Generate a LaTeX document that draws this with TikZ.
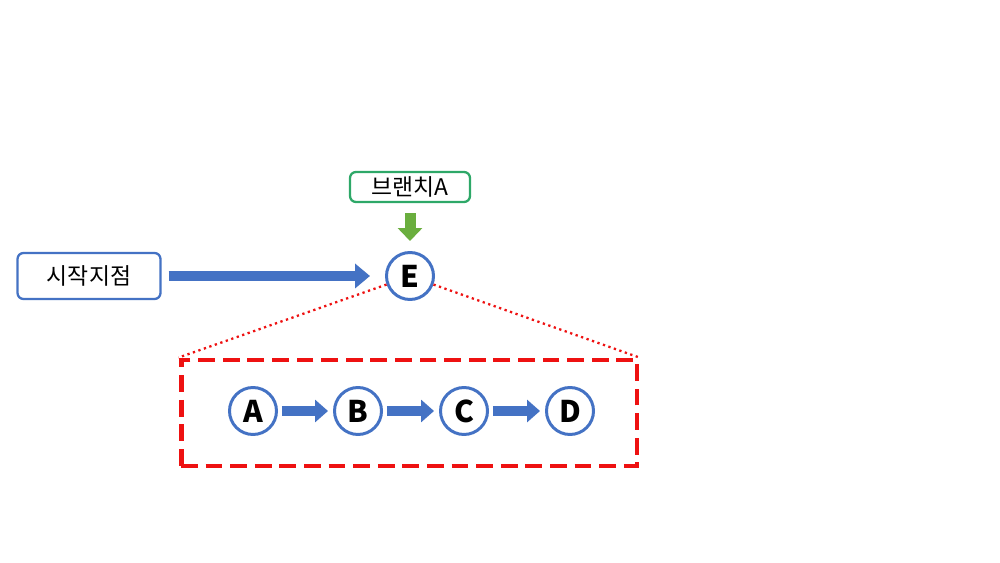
\documentclass[tikz,border=0pt]{standalone}
\usepackage{tikz}
\usepackage{xcolor}
\usepackage{fontspec}
\setmainfont{Noto Sans CJK KR}
\definecolor{vizBlue}{HTML}{4472C4}
\definecolor{vizGreen}{HTML}{6AAE3E}
\definecolor{vizBranch}{HTML}{2EA868}
\definecolor{vizRed}{HTML}{EE1111}
\usetikzlibrary{arrows.meta}

\begin{document}
\begin{tikzpicture}[x=0.02cm, y=-0.02cm,
  commit/.style={circle, draw=vizBlue, line width=1.7pt, fill=white, minimum size=0.94cm, inner sep=0pt, font=\fontsize{17}{17}\selectfont\bfseries},
  labelbox/.style={rectangle, rounded corners=0.12cm, line width=1.3pt, fill=white, inner sep=0pt, font=\fontsize{13}{13}\selectfont},
  bigarrow/.style={draw=vizBlue, line width=0.2cm, -{Triangle[width=0.48cm, length=0.3cm]}},
  smallarrow/.style={draw=vizBlue, line width=0.2cm, -{Triangle[width=0.44cm, length=0.26cm]}},
  greenarrow/.style={draw=vizGreen, line width=0.22cm, -{Triangle[width=0.48cm, length=0.26cm]}}]
  \useasboundingbox (0,0) rectangle (1000,563);
  \filldraw[fill=white, draw=none] (0,0) rectangle (1000,563);
  \node[labelbox, draw=vizBlue, minimum width=2.86cm, minimum height=0.92cm] (start) at (89,276) {시작지점};
  \node[labelbox, draw=vizBranch, minimum width=2.4cm, minimum height=0.6cm] (branch) at (410,187) {브랜치A};
  \node[commit] (E) at (410,276) {E};
  \node[rectangle, draw=vizRed, line width=2.8pt, dash pattern=on 9.5pt off 4.5pt, minimum width=9.12cm, minimum height=2.12cm] (frame) at (409,413) {};
  \node[commit] (A) at (253,411) {A};
  \node[commit] (B) at (358,411) {B};
  \node[commit] (C) at (464,411) {C};
  \node[commit] (D) at (570,411) {D};
  \draw[bigarrow, shorten <=0.14cm, shorten >=0.3cm] (start) -- (E);
  \draw[greenarrow, shorten <=0.2cm, shorten >=0.2cm] (branch) -- (E);
  \draw[smallarrow, shorten <=0.08cm, shorten >=0.1cm] (A) -- (B);
  \draw[smallarrow, shorten <=0.08cm, shorten >=0.1cm] (B) -- (C);
  \draw[smallarrow, shorten <=0.08cm, shorten >=0.1cm] (C) -- (D);
  \draw[vizRed, line width=1.3pt, dotted] (E.200) -- (frame.north west);
  \draw[vizRed, line width=1.3pt, dotted] (E.-20) -- (frame.north east);
\end{tikzpicture}
\end{document}
